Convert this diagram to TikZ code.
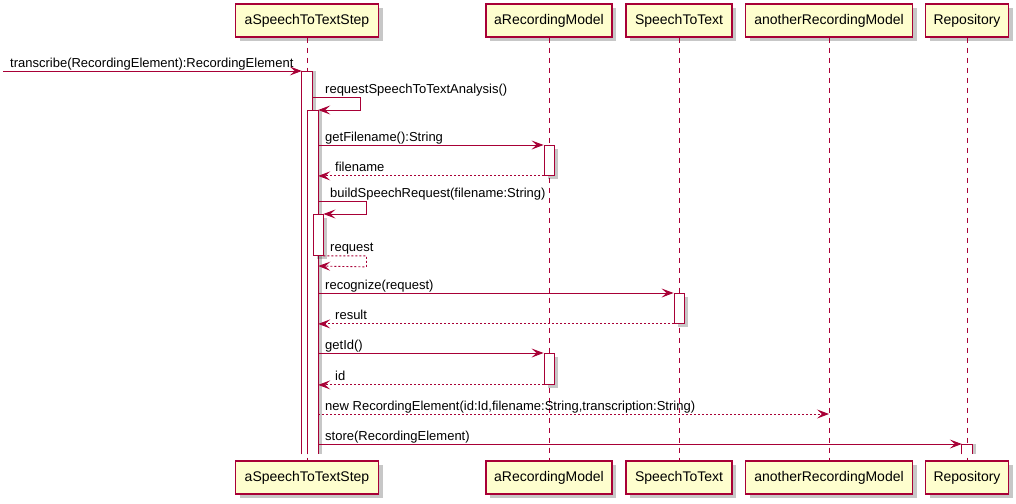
\documentclass[tikz,border=0pt]{standalone}
\usepackage{fontspec}
\setmainfont{Liberation Sans}
\usetikzlibrary{arrows.meta,shadows}
\definecolor{pumlred}{HTML}{A80036}
\definecolor{pumlfill}{HTML}{FEFECE}
\tikzset{
  pshadow/.style={drop shadow={shadow xshift=4pt,shadow yshift=-4pt,fill=black,opacity=0.22}},
  rshadow/.style={drop shadow={shadow xshift=4pt,shadow yshift=0pt,fill=black,opacity=0.22}},
  part/.style={draw=pumlred,fill=pumlfill,line width=1.2pt,minimum height=33pt,inner sep=0pt,
    font=\fontsize{14}{16}\selectfont,pshadow},
  lifeline/.style={draw=pumlred,line width=0.8pt,dash pattern=on 5pt off 5pt},
  actopen/.style={fill=white,draw=none,minimum width=10pt,inner sep=0pt,anchor=north,rshadow},
  actbox/.style={fill=white,draw=pumlred,line width=0.9pt,minimum width=10pt,inner sep=0pt,anchor=north,pshadow},
  actline/.style={draw=pumlred,line width=0.9pt},
  msg/.style={draw=pumlred,line width=0.9pt,-{Stealth[length=12pt,width=9pt,inset=5pt]}},
  ret/.style={msg,dash pattern=on 2pt off 2pt},
  lbl/.style={anchor=base west,inner sep=0pt,font=\fontsize{13}{15}\selectfont},
}
\begin{document}
\begin{tikzpicture}[x=1pt,y=-1pt]
\useasboundingbox (0,0) rectangle (1016,503);
% participants
\node[part,minimum width=143pt] (p1t) at (307,20.5) {aSpeechToTextStep};
\node[part,minimum width=126pt] (p2t) at (549,20.5) {aRecordingModel};
\node[part,minimum width=106pt] (p3t) at (679,20.5) {SpeechToText};
\node[part,minimum width=167pt] (p4t) at (829,20.5) {anotherRecordingModel};
\node[part,minimum width=83pt] (p5t) at (967,20.5) {Repository};
\node[part,minimum width=143pt] (p1b) at (307,477.5) {aSpeechToTextStep};
\node[part,minimum width=126pt] (p2b) at (549,477.5) {aRecordingModel};
\node[part,minimum width=106pt] (p3b) at (679,477.5) {SpeechToText};
\node[part,minimum width=167pt] (p4b) at (829,477.5) {anotherRecordingModel};
\node[part,minimum width=83pt] (p5b) at (967,477.5) {Repository};
% lifelines
\draw[lifeline] (p1t.south) -- (p1b.north);
\draw[lifeline] (p2t.south) -- (p2b.north);
\draw[lifeline] (p3t.south) -- (p3b.north);
\draw[lifeline] (p4t.south) -- (p4b.north);
\draw[lifeline] (p5t.south) -- (p5b.north);
% activations
\node[actopen,minimum height=383pt] (A0) at (307,71) {};
\draw[actline] (A0.south west) -- (A0.north west) -- (A0.north east) -- (A0.south east);
\node[actopen,minimum height=344pt] (A1) at (313,110) {};
\draw[actline] (A1.south west) -- (A1.north west) -- (A1.north east) -- (A1.south east);
\node[actbox,minimum height=41pt] (A2) at (318,214) {};
\node[actbox,minimum height=30pt] (R1) at (549,145) {};
\node[actbox,minimum height=30pt] (S1) at (679,293) {};
\node[actbox,minimum height=31pt] (R2) at (549,353) {};
\node[actopen,minimum height=10pt] (Rp) at (967,444) {};
\draw[actline] (Rp.south west) -- (Rp.north west) -- (Rp.north east) -- (Rp.south east);
% messages
\coordinate (start) at (3,71);
\draw[msg] (start) -- (A0.north west);
\node[lbl] (l1) at (10,67) {transcribe(RecordingElement):RecordingElement};

\draw[msg] (A0.east |- 0,97) -- ++(48,0) -- ++(0,13) -- (A1.north east);
\node[lbl] (l2) at (325,93) {requestSpeechToTextAnalysis()};

\draw[msg] (A1.east |- R1.north) -- (R1.north west);
\node[lbl] (l3) at (325,141) {getFilename():String};
\draw[ret] (R1.south west) -- (A1.east |- R1.south);
\node[lbl] (l4) at (335,171) {filename};

\draw[msg] (A1.east |- 0,201) -- ++(48,0) -- ++(0,13) -- (A2.north east);
\node[lbl] (l5) at (330,197) {buildSpeechRequest(filename:String)};
\draw[ret] (A2.south east) -- ++(43,0) -- ++(0,11) -- (A1.east |- 0,266);
\node[lbl] (l6) at (330,251) {request};

\draw[msg] (A1.east |- S1.north) -- (S1.north west);
\node[lbl] (l7) at (325,289) {recognize(request)};
\draw[ret] (S1.south west) -- (A1.east |- S1.south);
\node[lbl] (l8) at (335,319) {result};

\draw[msg] (A1.east |- R2.north) -- (R2.north west);
\node[lbl] (l9) at (325,349) {getId()};
\draw[ret] (R2.south west) -- (A1.east |- R2.south);
\node[lbl] (l10) at (335,380) {id};

\draw[ret] (A1.east |- 0,414) -- (p4t.south |- 0,414);
\node[lbl] (l11) at (325,410) {new RecordingElement(id:Id,filename:String,transcription:String)};

\draw[msg] (A1.east |- Rp.north) -- (Rp.north west);
\node[lbl] (l12) at (325,440) {store(RecordingElement)};
\end{tikzpicture}
\end{document}
